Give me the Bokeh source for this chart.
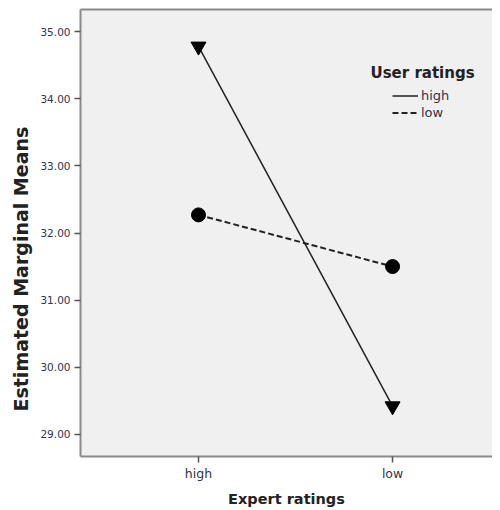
from bokeh.plotting import figure
from bokeh.models import (Range1d, FixedTicker, NumeralTickFormatter, LinearAxis,
                          Legend, LegendItem, Label, Title)
from bokeh.embed import file_html
from bokeh.resources import INLINE

# ---- data ----
expert_ratings = ["high", "low"]
expert_pos = [0, 1]
user_high = [34.78, 29.42]
user_low = [32.27, 31.50]
y_ticks = [29, 30, 31, 32, 33, 34, 35]

FONT = "DejaVu Sans"
TXT = "#33334d"
AX = "#8a8a8a"

p = figure(width=492, height=509, output_backend="svg", toolbar_location=None,
           x_range=Range1d(-0.608, 1.515), y_range=Range1d(28.67, 35.33),
           min_border_left=80, min_border_right=0, min_border_top=9,
           min_border_bottom=48, background_fill_color="#f0f0f0",
           border_fill_color="white", outline_line_color=None)
p.grid.visible = False

# axes
p.xaxis.ticker = FixedTicker(ticks=expert_pos)
p.xaxis.major_label_overrides = {i: s for i, s in zip(expert_pos, expert_ratings)}
p.yaxis.ticker = FixedTicker(ticks=y_ticks)
p.yaxis.formatter = NumeralTickFormatter(format="0.00")
for ax in (p.xaxis[0], p.yaxis[0]):
    ax.axis_line_color = AX
    ax.axis_line_width = 2
    ax.major_tick_line_color = "#555555"
    ax.major_tick_line_width = 1.5
    ax.major_tick_out = 6
    ax.major_tick_in = 0
    ax.minor_tick_out = 0
    ax.minor_tick_in = 0
    ax.major_label_text_font = FONT
    ax.major_label_text_color = TXT
    ax.axis_label_text_font = FONT
    ax.axis_label_text_font_style = "bold"
    ax.axis_label_text_color = "#222222"
p.yaxis.major_label_text_font_size = "10.5px"
p.yaxis.major_label_standoff = 4
p.xaxis.major_label_text_font_size = "12.5px"
p.xaxis.major_label_standoff = 3
p.xaxis.axis_label = "Expert ratings"
p.xaxis.axis_label_text_font_size = "14.5px"
p.xaxis.axis_label_standoff = 7

top = LinearAxis(ticker=FixedTicker(ticks=[]), axis_line_color=AX, axis_line_width=2,
                 major_tick_out=0, minor_tick_out=0, major_tick_in=0, minor_tick_in=0,
                 major_label_text_font_size="0px")
p.add_layout(top, "above")

# y axis title (placed as in the reference, below the frame's centre)
p.add_layout(Title(text="Estimated Marginal Means", align="left", offset=45,
                   text_font=FONT, text_font_style="bold", text_font_size="19px",
                   text_color="#222222", standoff=12), "left")

# series
r_high = p.line(expert_pos, user_high, line_color="#222222", line_width=1.5)
m_high = p.scatter(expert_pos, user_high, marker="inverted_triangle", size=15,
                   fill_color="black", line_color="black")
r_low = p.line(expert_pos, user_low, line_color="#222222", line_width=2, line_dash="6 3")
m_low = p.scatter(expert_pos, user_low, marker="circle", size=14,
                  fill_color="black", line_color="black")

legend = Legend(items=[LegendItem(label="high", renderers=[r_high]),
                       LegendItem(label="low", renderers=[r_low])],
                location=(312, 335), background_fill_alpha=0, border_line_color=None,
                padding=0, margin=0, spacing=0, glyph_width=26, glyph_height=17,
                label_standoff=3, label_text_font=FONT, label_text_font_size="13px",
                label_text_color=TXT, label_height=17)
p.add_layout(legend, "center")

p.add_layout(Label(x=290, y=384, x_units="screen", y_units="screen", text="User ratings",
                   text_font=FONT, text_font_style="bold", text_font_size="15px",
                   text_color="#222222", text_baseline="middle"))

open("out.html", "w").write(file_html(p, INLINE))
